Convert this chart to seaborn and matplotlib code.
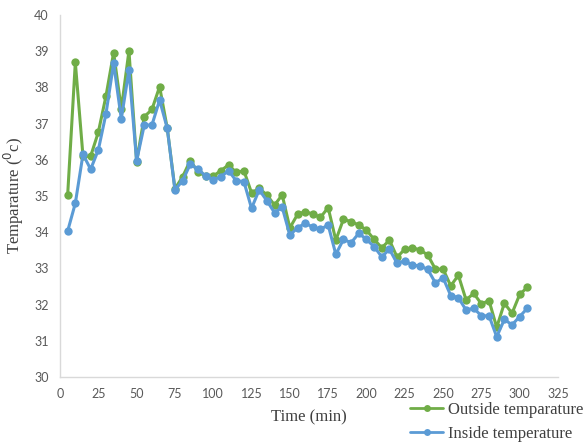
import pandas as pd
import matplotlib
matplotlib.use('Agg')
import matplotlib.pyplot as plt
import seaborn as sns

# Tiempo (min) y temperaturas
tiempo = list(range(5, 310, 5))

outside = [35.03, 38.69, 36.10, 36.10, 36.76, 37.76, 38.96, 37.40, 39.01, 35.95,
           37.19, 37.39, 38.02, 36.87, 35.20, 35.53, 35.98, 35.67, 35.55, 35.55,
           35.70, 35.86, 35.65, 35.70, 35.09, 35.21, 35.03, 34.75, 35.03, 34.12,
           34.49, 34.57, 34.50, 34.41, 34.68, 33.78, 34.36, 34.29, 34.20, 34.06,
           33.80, 33.57, 33.78, 33.31, 33.53, 33.57, 33.51, 33.37, 32.98, 32.98,
           32.52, 32.81, 32.13, 32.31, 32.02, 32.11, 31.37, 32.04, 31.76, 32.28,
           32.48]

inside = [34.03, 34.80, 36.15, 35.74, 36.27, 37.27, 38.67, 37.13, 38.48, 35.97,
          36.96, 36.96, 37.65, 36.87, 35.17, 35.42, 35.88, 35.74, 35.56, 35.45,
          35.53, 35.70, 35.42, 35.40, 34.66, 35.17, 34.87, 34.54, 34.69, 33.92,
          34.12, 34.25, 34.14, 34.08, 34.20, 33.39, 33.80, 33.71, 33.97, 33.80,
          33.60, 33.32, 33.53, 33.14, 33.21, 33.09, 33.07, 32.97, 32.60, 32.74,
          32.25, 32.19, 31.85, 31.90, 31.69, 31.69, 31.11, 31.59, 31.44, 31.67,
          31.90]

series_names = ['Outside temparature', 'Inside temperature']
colores = ['#70AD47', '#5B9BD5']

df = pd.DataFrame({
    'Tiempo': tiempo * 2,
    'Temperatura': outside + inside,
    'Serie': [series_names[0]] * len(tiempo) + [series_names[1]] * len(tiempo),
})

sns.set_style('white')
plt.rcParams['font.family'] = 'Liberation Serif'

fig = plt.figure(figsize=(5.86, 4.44), dpi=100)
ax = fig.add_axes([60 / 586, 67 / 444, 498 / 586, 362 / 444])

sns.lineplot(data=df, x='Tiempo', y='Temperatura', hue='Serie',
             hue_order=series_names, palette=colores, marker='o',
             markersize=6, markeredgewidth=0, linewidth=2.2, ax=ax,
             legend=False)

ax.set_xlim(0, 325)
ax.set_ylim(30, 40)
ax.set_xticks(range(0, 326, 25))
ax.set_yticks(range(30, 41))
ax.tick_params(length=0, labelsize=9, labelcolor='#595959', pad=8)
for lbl in ax.get_xticklabels() + ax.get_yticklabels():
    lbl.set_family('Lato')

for s in ['top', 'right']:
    ax.spines[s].set_visible(False)
for s in ['left', 'bottom']:
    ax.spines[s].set_color('#D9D9D9')
    ax.spines[s].set_linewidth(1)

ax.set_xlabel('Time (min)', fontsize=12, color='#404040', labelpad=7)
ax.set_ylabel('Temparature ($^{0}$c)', fontsize=12, color='#404040', labelpad=6)

handles = [plt.Line2D([], [], color=c, marker='o', markersize=5,
                      markeredgewidth=0, linewidth=2) for c in colores]
fig.legend(handles, series_names, loc='upper left',
           bbox_to_anchor=(410 / 586, 1 - 402 / 444), frameon=False,
           fontsize=12, handlelength=2.0, handletextpad=0.3,
           labelspacing=0.45, borderaxespad=0, borderpad=0,
           labelcolor='#404040')

plt.savefig('out.png', dpi=100)
plt.close()
